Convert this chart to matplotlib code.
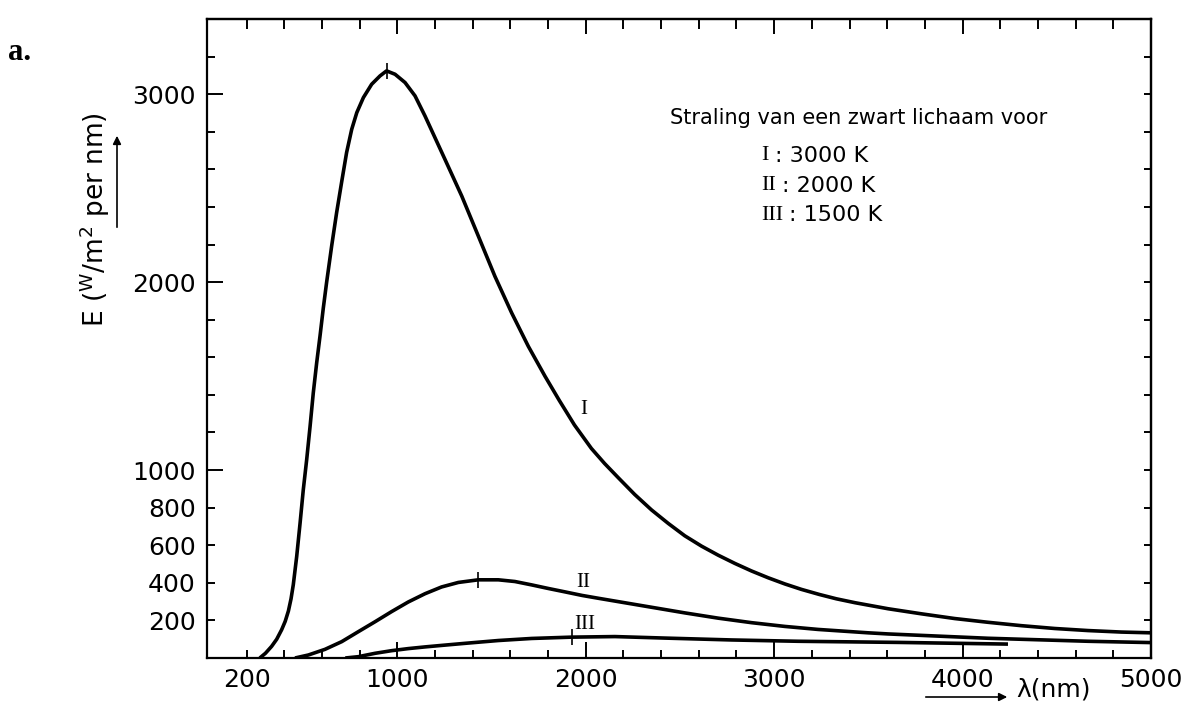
import matplotlib
matplotlib.use('Agg')
import matplotlib.pyplot as plt
from matplotlib.ticker import FixedLocator, FuncFormatter, NullFormatter

plt.rcParams['mathtext.default'] = 'regular'

# golflengte (nm) en uitstraling E (W/m2 per nm)
I_x = [270, 300, 333, 360, 386, 405, 422, 436, 448, 466, 484, 501, 519, 537, 554, 572,
       590, 607, 625, 652, 678, 705, 731, 758, 785, 820, 864, 908, 943, 988, 1041, 1094,
       1147, 1253, 1342, 1430, 1518, 1607, 1695, 1784, 1860, 1940, 2030, 2100, 2172,
       2260, 2349, 2438, 2526, 2615, 2703, 2792, 2880, 2968, 3057, 3145, 3240, 3330,
       3430, 3605, 3782, 3958, 4135, 4312, 4489, 4666, 4843, 5000]
I_y = [0, 25, 62, 100, 150, 195, 250, 315, 390, 540, 718, 895, 1055, 1232, 1410, 1570,
       1715, 1860, 2000, 2195, 2370, 2535, 2690, 2813, 2902, 2982, 3053, 3097, 3124, 3106, 3062, 2991,
       2884, 2653, 2458, 2245, 2031, 1836, 1659, 1499, 1370, 1240, 1115, 1035, 960,
       870, 788, 716, 650, 595, 547, 503, 463, 427, 394, 365, 338, 315,
       294, 262, 235, 210, 190, 172, 157, 146, 138, 134]

II_x = [457, 528, 616, 705, 793, 882, 970, 1058, 1147, 1235, 1324, 1430, 1536, 1624, 1713,
        1801, 1889, 1980, 2066, 2172, 2349, 2526, 2703, 2880, 3057, 3233, 3499, 3605, 4135,
        4666, 5000]
II_y = [0, 16, 46, 87, 140, 193, 247, 298, 342, 378, 402, 416, 416, 407, 389,
        370, 352, 333, 318, 300, 270, 240, 212, 188, 168, 152, 134, 128, 105,
        89, 82]

III_x = [724, 793, 882, 970, 1058, 1147, 1235, 1359, 1536, 1713, 1925, 2155, 2420, 2774,
         3127, 3658, 4241]
III_y = [0, 7, 25, 39, 50, 59, 67, 78, 93, 104, 111, 114, 106, 96, 89, 83, 74]

# streepjes bij de maxima
peak_x = [943, 1430, 1925]
peak_y = [3124, 416, 111]

curve_names = ['I', 'II', 'III']
curve_temps = ['3000 K', '2000 K', '1500 K']
label_x = [1987, 1987, 1997]
label_y = [1321, 400, 176]

x_major = [1000, 2000, 3000, 4000, 5000]
x_minor = [v for v in range(200, 5000, 200) if v % 1000]
x_minor_labels = {200: '200'}
y_major = [1000, 2000, 3000]
y_minor = [v for v in range(200, 3400, 200) if v % 1000]
y_minor_labels = {200: '200', 400: '400', 600: '600', 800: '800'}

W, H = 1189, 708
fig = plt.figure(figsize=(W / 100, H / 100), dpi=100)
L, R, B, T = 207, 1151, 658, 19
ax = fig.add_axes([L / W, 1 - B / H, (R - L) / W, (B - T) / H])

def pos(px, py):
    # pixel in de afbeelding -> axes fractie
    return (px - L) / (R - L), (B - py) / (B - T)

lw = 2.6
for xs, ys in [(I_x, I_y), (II_x, II_y), (III_x, III_y)]:
    ax.plot(xs, ys, color='black', lw=lw, solid_joinstyle='round', solid_capstyle='butt')
ax.plot(peak_x, peak_y, '|', color='black', ms=11, mew=1.2)

ax.set_xlim(-10, 5000)
ax.set_ylim(0, 3400)

for s in ax.spines.values():
    s.set_linewidth(1.6)

ax.xaxis.set_major_locator(FixedLocator(x_major))
ax.xaxis.set_minor_locator(FixedLocator(x_minor))
ax.xaxis.set_minor_formatter(FuncFormatter(lambda v, p: x_minor_labels.get(int(round(v)), '')))
ax.yaxis.set_major_locator(FixedLocator(y_major))
ax.yaxis.set_minor_locator(FixedLocator(y_minor))
ax.yaxis.set_minor_formatter(FuncFormatter(lambda v, p: y_minor_labels.get(int(round(v)), '')))

ax.tick_params(which='both', direction='in', labelsize=18, width=1.4)
ax.tick_params(which='major', length=11.5)
ax.tick_params(which='minor', length=5.5)
ax.tick_params(axis='x', which='both', pad=7)
ax.tick_params(axis='y', which='both', pad=8)

top = ax.secondary_xaxis('top')
top.xaxis.set_major_locator(FixedLocator(x_major))
top.xaxis.set_minor_locator(FixedLocator(x_minor))
top.xaxis.set_major_formatter(NullFormatter())
top.tick_params(which='both', direction='in', width=1.4)
top.tick_params(which='major', length=11)
top.tick_params(which='minor', length=7)
top.spines['top'].set_linewidth(1.6)

right = ax.secondary_yaxis('right')
right.yaxis.set_major_locator(FixedLocator(y_major))
right.yaxis.set_minor_locator(FixedLocator(y_minor))
right.yaxis.set_major_formatter(NullFormatter())
right.tick_params(which='both', direction='in', width=1.4, length=5)
right.spines['right'].set_linewidth(1.6)

# labels bij de krommen
for name, lx, ly in zip(curve_names, label_x, label_y):
    ax.text(lx, ly, name, family='Liberation Serif', fontsize=15, ha='center', va='center')

# verklaring
ax.text(*pos(670, 118), 'Straling van een zwart lichaam voor', transform=ax.transAxes,
        fontsize=15, ha='left', va='center')
row_y = [156, 186, 215]
val_px = [775, 782, 789]
for name, temp, ry, vx in zip(curve_names, curve_temps, row_y, val_px):
    ax.text(*pos(761, ry), name, transform=ax.transAxes, family='Liberation Serif',
            fontsize=16, ha='left', va='center')
    ax.text(*pos(vx, ry), ': ' + temp, transform=ax.transAxes,
            fontsize=16, ha='left', va='center')

# as-titels met pijlen
fig.text(95 / W, 1 - 220 / H, r'E ($^{W}$/m$^{2}$ per nm)', rotation=90,
         fontsize=19, ha='center', va='center')
ax.annotate('', xy=(117, H - 133), xytext=(117, H - 230), xycoords='figure pixels',
            textcoords='figure pixels',
            arrowprops=dict(arrowstyle='-|>', color='black', lw=1.2, mutation_scale=12))
ax.annotate('', xy=(1010, H - 697), xytext=(923, H - 697), xycoords='figure pixels',
            textcoords='figure pixels',
            arrowprops=dict(arrowstyle='-|>', color='black', lw=1.2, mutation_scale=12))
fig.text(1016 / W, 1 - 690 / H, 'λ(nm)', fontsize=18, ha='left', va='center')

fig.text(8 / W, 1 - 52 / H, 'a.', family='Liberation Serif', fontweight='bold',
         fontsize=22, ha='left', va='center')

fig.savefig('out.png', dpi=100)
